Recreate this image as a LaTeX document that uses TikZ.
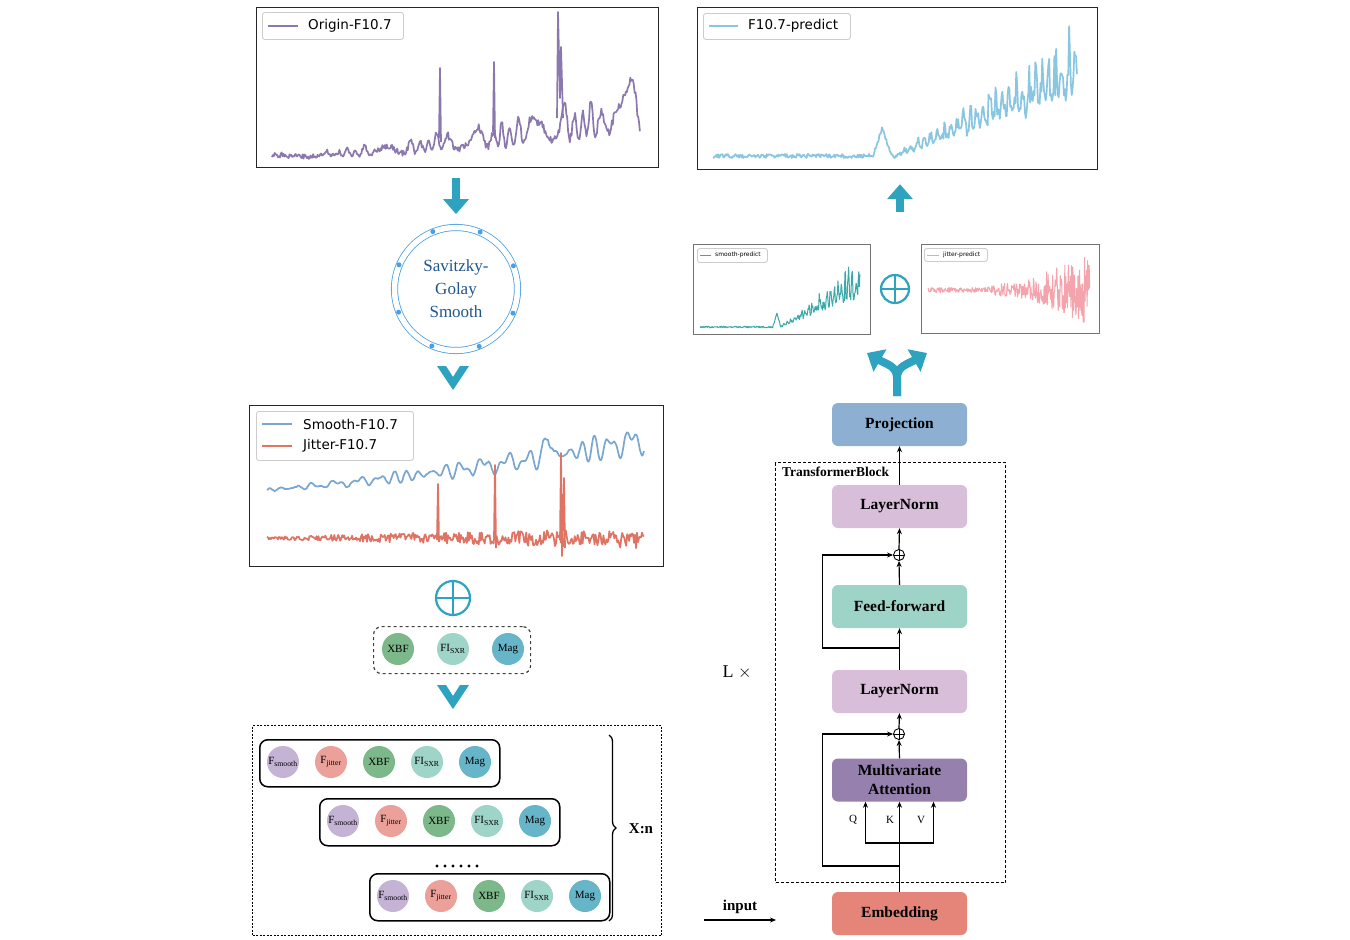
\documentclass[tikz,border=0pt]{standalone}
\usepackage{fontspec}
\setmainfont{Liberation Serif}
\newfontfamily\plotfont{DejaVu Sans}
\usetikzlibrary{arrows.meta,decorations.pathreplacing}

\definecolor{arrowc}{RGB}{46,163,192}
\definecolor{ringc}{RGB}{74,160,226}
\definecolor{sgtext}{RGB}{31,86,140}
\definecolor{cOrigin}{RGB}{139,120,174}
\definecolor{cSmooth}{RGB}{122,166,210}
\definecolor{cJitter}{RGB}{224,116,100}
\definecolor{cPred}{RGB}{137,198,224}
\definecolor{cSpred}{RGB}{58,169,168}
\definecolor{cJpred}{RGB}{244,164,172}
\definecolor{csmooth}{RGB}{197,179,214}
\definecolor{cjitter}{RGB}{235,160,154}
\definecolor{cxbf}{RGB}{125,184,138}
\definecolor{cfi}{RGB}{159,212,200}
\definecolor{cmag}{RGB}{102,181,201}
\definecolor{projc}{RGB}{141,176,210}
\definecolor{lnc}{RGB}{217,190,218}
\definecolor{ffc}{RGB}{158,211,199}
\definecolor{attc}{RGB}{149,128,174}
\definecolor{embc}{RGB}{229,133,122}

\tikzset{
  plotframe/.style 2 args={draw=black!85, line width=1.2pt, anchor=north west, inner sep=0pt, minimum width=#1pt, minimum height=#2pt},
  smallframe/.style 2 args={draw=black!55, line width=0.9pt, anchor=north west, inner sep=0pt, minimum width=#1pt, minimum height=#2pt},
  legbox/.style 2 args={draw=black!20, fill=white, line width=0.9pt, rounded corners=2.5pt, anchor=north west, inner sep=0pt, minimum width=#1pt, minimum height=#2pt},
  legtext/.style={anchor=west, inner sep=0pt, font=\plotfont\fontsize{13.5}{15}\selectfont},
  smalllegtext/.style={anchor=west, inner sep=0pt, font=\plotfont\fontsize{6}{7}\selectfont},
  curve/.style={line width=1.7pt, line join=round},
  thincurve/.style={line width=1pt, line join=round},
  bigarrow/.style={arrowc, line width=8pt, -{Triangle[length=15pt,width=25pt]}},
  oplus/.style={circle, draw=arrowc, line width=2.2pt, inner sep=0pt, minimum size=#1,
    path picture={\draw [arrowc, line width=2.2pt] (path picture bounding box.north) -- (path picture bounding box.south) (path picture bounding box.west) -- (path picture bounding box.east);}},
  sumnode/.style={circle, draw, line width=0.9pt, inner sep=0pt, minimum size=11pt,
    path picture={\draw [line width=0.9pt] (path picture bounding box.north) -- (path picture bounding box.south) (path picture bounding box.west) -- (path picture bounding box.east);}},
  feat/.style={circle, fill=#1, inner sep=0pt, minimum size=32pt, font=\fontsize{11}{13}\selectfont},
  rowbox/.style={draw, line width=1.5pt, rounded corners=8pt, anchor=north west, inner sep=0pt, minimum width=240pt, minimum height=47pt},
  block/.style={fill=#1, rounded corners=6pt, inner sep=0pt, minimum width=135pt, minimum height=43pt, align=center, font=\bfseries\fontsize{15.5}{19}\selectfont},
  chev/.pic={\fill [arrowc] (-16,-12) -- (0,12) -- (16,-12) -- (7,-12) -- (0,-1) -- (-7,-12) -- cycle;}
}

\begin{document}
\begin{tikzpicture}[x=1pt, y=-1pt, >={Stealth[length=6pt,width=5pt]},
  declare function={sp(\t)=max(0,2*(\t-0.5)); osc(\t)=0.5+0.5*sin(9500*\t+250*sin(1700*\t));
    wob(\t)=0.7+0.3*sin(2300*\t)*sin(3700*\t+50);}]
	\path [use as bounding box, fill=white] (0,0) rectangle (1350,940);
	\pgfmathsetseed{42}

	\node [plotframe={402}{160}] (origin) at (256,7) {};
	\node [legbox={141}{27}] (legO) at (262,12) {};
	\draw [cOrigin, curve] (268,26) -- (298,26);
	\node [legtext] (legOtext) at (308,26) {Origin-F10.7};
	\draw [cOrigin, curve] plot [domain=0:1, samples=420, variable=\t]
		({272+368*\t}, {157-28*\t*\t-(3+55*\t*sqrt(\t))*osc(\t)*wob(\t)-2*(1+1.5*\t)*rand});
	\draw [cOrigin, curve] (439,138) -- (440,68) -- (441,142);
	\draw [cOrigin, curve] (493,132) -- (494,62) -- (495,138);
	\draw [cOrigin, curve] (557,118) -- (558,12) -- (560,98) -- (561,47) -- (563,118);

	\node [circle, draw=ringc, double=white, double distance=5.5pt, line width=0.8pt, minimum size=123pt, inner sep=0pt,
		text=sgtext, align=center, font=\fontsize{17}{23}\selectfont] (sg) at (456,289) {Savitzky-\\Golay\\Smooth};
	\foreach \a in {22.5,67.5,...,337.5}
		\fill [ringc] (sg.\a) circle (2.5pt);
	\draw [bigarrow, shorten <=10pt, shorten >=13pt] (origin.south -| sg) -- (sg.north);
	\pic at (453,378) {chev};

	\node [plotframe={414}{161}] (split) at (249,405) {};
	\node [legbox={157}{49}] (legS) at (256,411) {};
	\draw [cSmooth, curve] (262,424) -- (292,424);
	\draw [cJitter, curve] (262,446) -- (292,446);
	\node [legtext] (legStext) at (303,424) {Smooth-F10.7};
	\node [legtext] (legJtext) at (303,446) {Jitter-F10.7};
	\draw [cSmooth, curve] plot [domain=0:1, samples=380, variable=\t]
		({267+377*\t}, {490-50*\t*(0.6+0.4*\t)-0.5*(3+28*\t)*(0.6*sin(8200*\t+200*sin(900*\t))+0.4*sin(12900*\t+40))-24*max(0,1-60*abs(\t-0.745))-0.5*rand});
	\draw [cJitter, curve] plot [domain=0:1, samples=380, variable=\t]
		({267+377*\t}, {538+(1.5+9*\t)*rand});
	\draw [cJitter, curve] (437,538) -- (438,484) -- (439,542);
	\draw [cJitter, curve] (494,538) -- (495,465) -- (496,548);
	\draw [cJitter, curve] (560,540) -- (561,453) -- (562,556) -- (564,478) -- (565,548);

	\node [oplus=34pt] (sumL) at (453,598) {};
	\node [draw=black!75, dashed, line width=1.2pt, rounded corners=8pt, anchor=north west, inner sep=0pt,
		minimum width=157pt, minimum height=47pt] (feats) at (373,626) {};
	\node [feat=cxbf] (xbf) at (398,649) {XBF};
	\node [feat=cfi] (fi) at (453,649) {FI\textsubscript{SXR}};
	\node [feat=cmag] (mag) at (508,649) {Mag};
	\pic at (453,697) {chev};

	\node [draw, line width=1.3pt, dash pattern=on 2pt off 1.5pt, anchor=north west, inner sep=0pt,
		minimum width=409pt, minimum height=210pt] (input) at (252,725) {};
	\foreach \r/\bx/\by in {1/259/739, 2/319/798, 3/369/873} {
		\node [rowbox] (row\r) at (\bx,\by) {};
		\foreach \lab/\col [count=\i] in {F\textsubscript{smooth}/csmooth, F\textsubscript{jitter}/cjitter, XBF/cxbf, FI\textsubscript{SXR}/cfi, Mag/cmag}
			\node [feat=\col] (f\r-\i) at (\bx+24+48*\i-48, \by+23) {\lab};
	}
	\foreach \k in {0,...,5}
		\fill (437+8*\k,866) circle (1.6pt);
	\coordinate (bt) at (609,735);
	\coordinate (bb) at (609,921);
	\draw [decorate, decoration={brace, amplitude=7pt}, line width=1.3pt] (bt) -- (bb);
	\node [font=\bfseries\fontsize{15}{17}\selectfont] (xn) at (641,829) {X:n};

	\node [plotframe={400}{162}] (pred) at (697,7) {};
	\node [legbox={147}{26}] (legP) at (703,13) {};
	\draw [cPred, curve] (709,26) -- (738,26);
	\node [legtext] (legPtext) at (748,26) {F10.7-predict};
	\draw [cPred, curve] plot [domain=0:1, samples=420, variable=\t]
		({713+364*\t}, {156-2*rand-28*max(0,1-40*abs(\t-0.465))-65*sp(\t)-70*sp(\t)*(0.5+0.5*sin(10*mod(2000*\t,36)))*(0.55+0.45*rand)+10*sp(\t)*rand});

	\coordinate (upS) at (900,212);
	\draw [bigarrow, shorten >=14pt] (upS) -- (upS |- pred.south);

	\node [smallframe={177}{90}] (spred) at (693,244) {};
	\node [legbox={70}{14}] (legSp) at (697,248) {};
	\draw [cSpred, thincurve] (700,255) -- (711,255);
	\node [smalllegtext] (legSptext) at (715,255) {smooth-predict};
	\draw [cSpred, thincurve] plot [domain=0:1, samples=300, variable=\t]
		({700+160*\t}, {327-0.8*rand-14*max(0,1-40*abs(\t-0.48))-33*sp(\t)-38*sp(\t)*(0.5+0.5*sin(10*mod(1600*\t,36)))*(0.55+0.45*rand)+5*sp(\t)*rand});

	\node [oplus=28pt] (sumR) at (895,289) {};

	\node [smallframe={178}{89}] (jpred) at (921,244) {};
	\node [legbox={63}{13}] (legJp) at (924,248) {};
	\draw [cJpred, thincurve] (927,255) -- (939,255);
	\node [smalllegtext] (legJptext) at (943,255) {jitter-predict};
	\draw [cJpred, thincurve] plot [domain=0:1, samples=320, variable=\t]
		({928+162*\t}, {290+(2.5+5*max(0,1-8*abs(\t-0.47))+34*sp(\t))*rand});

	\coordinate (fk) at (897,396);
	\coordinate (fl) at (867,353);
	\coordinate (fr) at (927,353);
	\draw [bigarrow] (fk) -- (897,378) .. controls (897,366) and (886,364) .. (fl);
	\draw [bigarrow] (fk) -- (897,378) .. controls (897,366) and (908,364) .. (fr);

	\node [block=projc] (proj) at (899.5,424.5) {Projection};
	\node [draw, line width=1.4pt, dash pattern=on 3pt off 2pt, anchor=north west, inner sep=0pt,
		minimum width=230pt, minimum height=420pt] (tblock) at (775,462) {};
	\node [anchor=north west, inner sep=5pt, xshift=2pt, font=\bfseries\fontsize{13.5}{15}\selectfont] (tlabel) at (tblock.north west) {TransformerBlock};
	\node [block=lnc] (ln2) at (899.5,506.5) {LayerNorm};
	\node [sumnode] (sum2) at (899,555) {};
	\node [block=ffc] (ff) at (899.5,606.5) {Feed-forward};
	\node [block=lnc] (ln1) at (899.5,691.5) {LayerNorm};
	\node [sumnode] (sum1) at (899,734) {};
	\node [block=attc] (att) at (899.5,780) {Multivariate\\Attention};
	\node [block=embc] (emb) at (899.5,913.5) {Embedding};
	\node [font=\fontsize{11}{13}\selectfont] (q) at (853,820) {Q};
	\node [font=\fontsize{11}{13}\selectfont] (k) at (890,820) {K};
	\node [font=\fontsize{11}{13}\selectfont] (v) at (921,820) {V};
	\node [font=\fontsize{18}{20}\selectfont] (lx) at (737,672) {L $\times$};
	\node [font=\bfseries\fontsize{15}{17}\selectfont] (inp) at (740,907) {input};

	\coordinate (qkv) at (899.5,843);
	\coordinate (res1) at (899.5,866);
	\coordinate (res2) at (899.5,648);
	\coordinate (inS) at (704,920);
	\coordinate (inE) at (776,920);
	\draw [->, very thick] (inS) -- (inE);
	\draw [->, very thick] (emb.north) -- (att.south);
	\draw [->, very thick] (qkv) -| ([xshift=-34pt]att.south);
	\draw [->, very thick] (qkv) -| ([xshift=34pt]att.south);
	\draw [->, very thick] (res1) -- ++(-77,0) |- (sum1.west);
	\draw [->, very thick] (att.north) -- (sum1.south);
	\draw [->, very thick] (sum1.north) -- (ln1.south);
	\draw [->, very thick] (ln1.north) -- (ff.south);
	\draw [->, very thick] (res2) -- ++(-77,0) |- (sum2.west);
	\draw [->, very thick] (ff.north) -- (sum2.south);
	\draw [->, very thick] (sum2.north) -- (ln2.south);
	\draw [->, very thick] (ln2.north) -- (proj.south);
\end{tikzpicture}
\end{document}
